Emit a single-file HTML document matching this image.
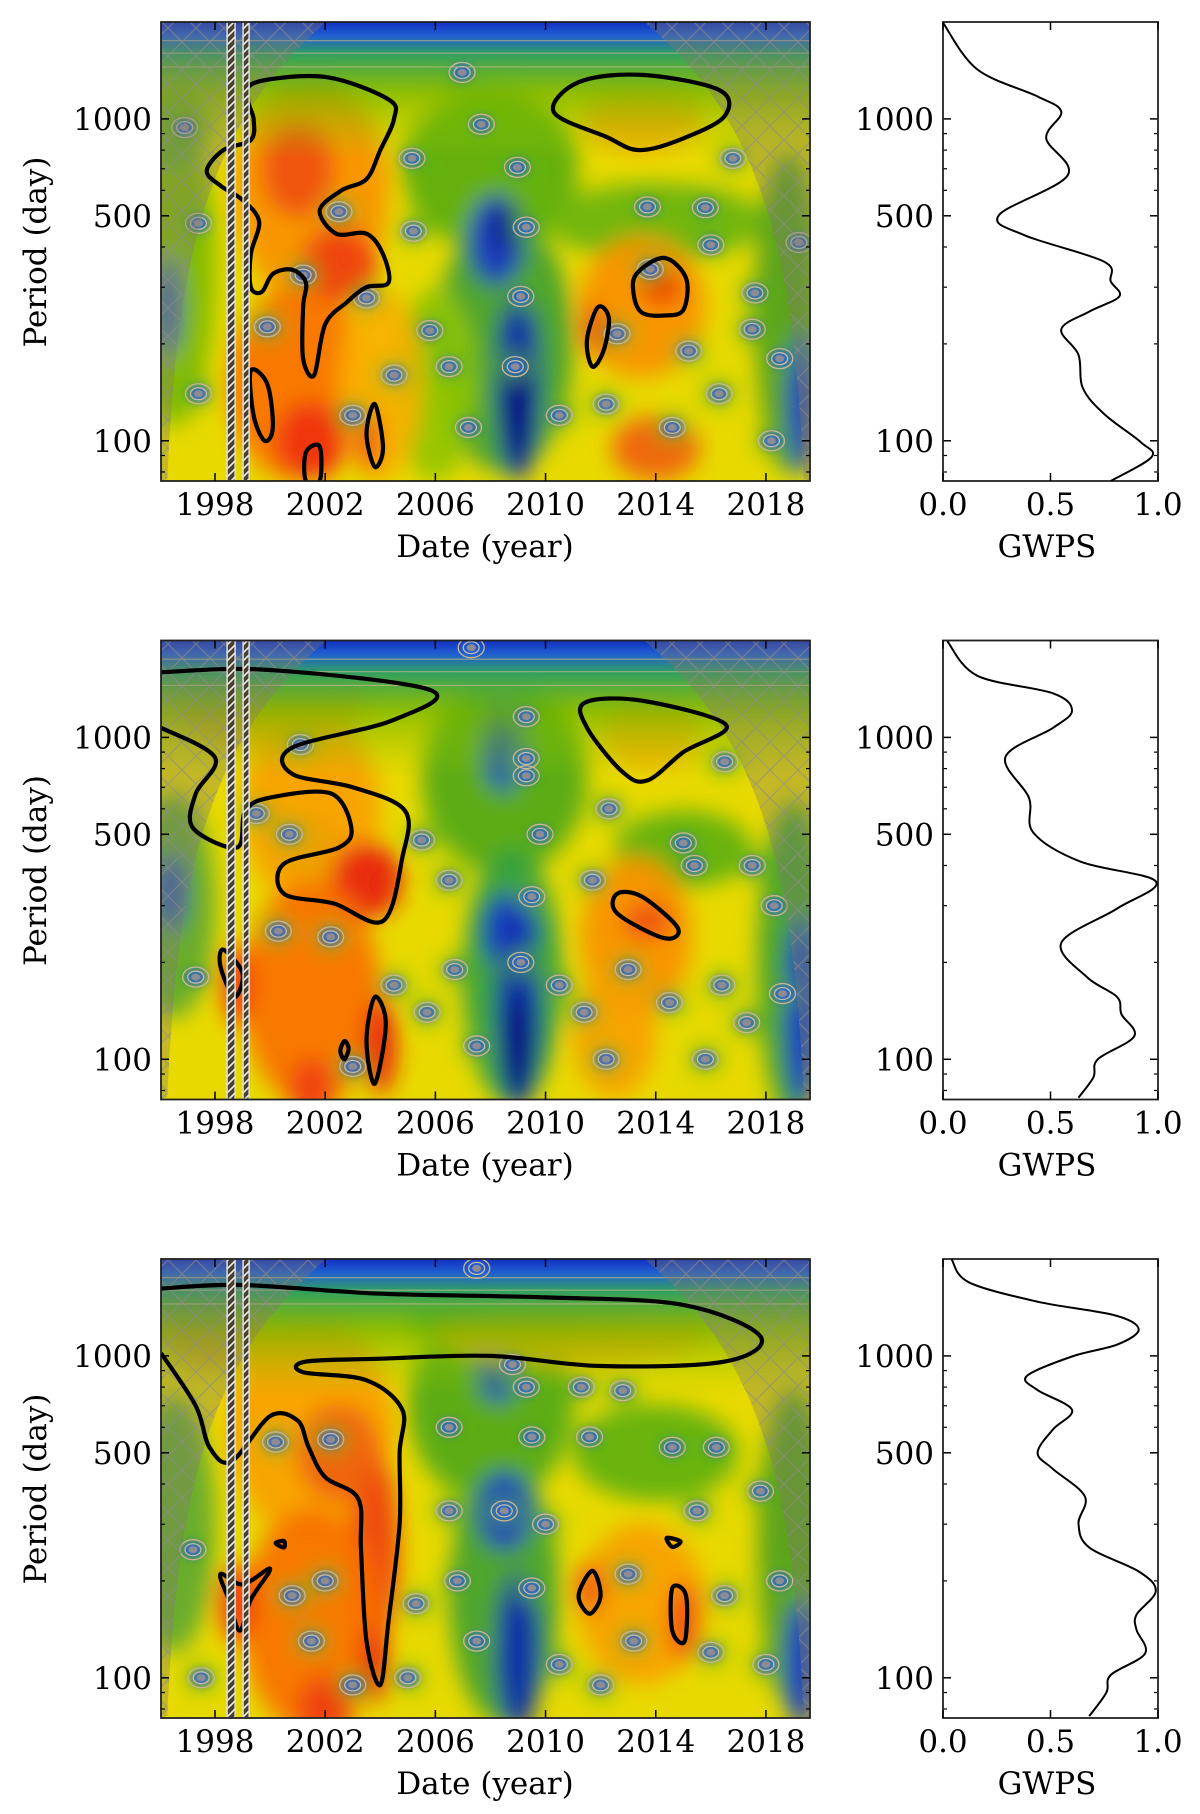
<!DOCTYPE html>
<html><head><meta charset="utf-8"><style>
html,body{margin:0;padding:0;background:#fff;}
svg{display:block;font-family:"DejaVu Serif","Liberation Serif",serif;}
</style></head><body>
<svg id="fig" width="1200" height="1814" viewBox="0 0 1200 1814" xmlns="http://www.w3.org/2000/svg">
<defs>
<filter id="blur" x="-20%" y="-20%" width="140%" height="140%"><feGaussianBlur stdDeviation="11"/></filter>
<filter id="blur2" x="-50%" y="-50%" width="200%" height="200%"><feGaussianBlur stdDeviation="4"/></filter>
<pattern id="cross" width="28" height="28" patternUnits="userSpaceOnUse">
<path d="M0 0L28 28M28 0L0 28" stroke="rgba(140,140,140,0.6)" stroke-width="1.3" fill="none"/></pattern>
<pattern id="hatch" width="8" height="8" patternUnits="userSpaceOnUse">
<rect width="8" height="8" fill="#4a4030"/><path d="M-2 10L10 -2M-2 2L2 -2M6 10L10 6" stroke="#eee" stroke-width="1.6"/></pattern>
<linearGradient id="topband" x1="0" y1="0" x2="0" y2="1">
<stop offset="0" stop-color="#1030c0"/><stop offset="0.03" stop-color="#2060d0"/><stop offset="0.07" stop-color="#30a060"/><stop offset="0.16" stop-color="#70b400" stop-opacity="0.7"/><stop offset="0.3" stop-color="#a0c800" stop-opacity="0"/></linearGradient>
</defs>
</svg>
<script>
const yearTicks=[1998,2002,2006,2010,2014,2018];
const periodTicks=[100,500,1000];
const minorPeriods=[80,90,200,300,400,600,700,800,900];
const gwpsTicks=[0,0.5,1];

const p1GwpsPeriod=[1990,1424,1174,1051,870,668,502,435,360,313,281,252,222,185,146,121,99,89,75];
const p1GwpsPower=[0.0,0.16,0.44,0.55,0.48,0.58,0.26,0.38,0.75,0.78,0.82,0.68,0.55,0.63,0.65,0.75,0.92,0.97,0.78];
const p2GwpsPeriod=[1990,1554,1372,1211,1069,868,649,506,411,357,294,230,180,156,138,118,100,88,76];
const p2GwpsPower=[0.02,0.16,0.51,0.60,0.51,0.29,0.40,0.42,0.64,0.99,0.81,0.55,0.67,0.81,0.83,0.89,0.72,0.70,0.63];
const p3GwpsPeriod=[1995,1693,1474,1336,1209,1084,996,866,783,680,590,500,446,366,301,254,214,186,157,141,119,102,90,76];
const p3GwpsPower=[0.04,0.12,0.44,0.80,0.91,0.81,0.60,0.39,0.44,0.60,0.51,0.44,0.51,0.66,0.63,0.68,0.91,0.99,0.90,0.90,0.94,0.78,0.76,0.68];

const p1Blobs=[[2008,700,3.2,0.25,'#5aac10'],[2014,480,4,0.12,'#6ab410'],[2008.5,200,2.5,0.4,'#40a030'],[2018.8,250,1.2,0.5,'#50a020'],[1996.5,350,1.5,0.5,'#7ab800'],[2006,150,1.5,0.3,'#90c400'],[1996.6,950,1.2,0.12,'#60a830'],
[2008.2,420,1.0,0.14,'#1838c8'],[2008.6,460,0.5,0.07,'#000080'],[2009,150,0.8,0.3,'#0828b0'],[2009,130,0.4,0.18,'#000070'],[2019.3,130,0.5,0.22,'#1030d0'],[1996.3,260,0.4,0.15,'#2040c0'],
[2001.5,600,2.8,0.35,'#f89000'],[2001,700,1.3,0.15,'#f05010'],[2002.5,350,1.4,0.12,'#f04010'],[2001,150,2.5,0.3,'#f87000'],[2001.5,100,1.3,0.12,'#f03010'],[2013.5,1000,2.2,0.1,'#f8a800'],[2013.5,260,2.3,0.22,'#f89000'],[2014.2,300,0.8,0.06,'#f04000'],[2014,95,1.6,0.1,'#f06010'],[2011.8,220,0.5,0.08,'#f05010'],[2004,150,1.5,0.3,'#f8b000'],[2003.6,100,0.4,0.1,'#f04010']];
const p2Blobs=[[2008.5,750,3,0.3,'#50a818'],[2015,450,2.5,0.12,'#60b010'],[2008.8,180,1.8,0.4,'#30a040'],[2019,200,1.3,0.5,'#40a030'],[1996.5,300,1.5,0.35,'#60a830'],[2001.5,450,1.2,0.1,'#70b410'],
[2008.7,250,1.0,0.12,'#1838c8'],[2009,140,0.8,0.3,'#0828b0'],[2009,110,0.4,0.15,'#000070'],[2019.3,140,0.6,0.3,'#1030d0'],[2008.5,950,0.8,0.15,'#2050c0'],[2007,1900,3,0.06,'#0020a0'],[1996.4,330,0.5,0.12,'#2040c0'],
[2000,1300,3.5,0.15,'#f8a800'],[2001.5,600,2.5,0.3,'#f8a000'],[2003.5,360,1.3,0.12,'#e82010'],[2001.5,160,2.5,0.35,'#f87000'],[2004,110,0.6,0.15,'#e82010'],[2001.5,80,0.8,0.1,'#f04010'],[2013.8,1050,1.8,0.12,'#f8b000'],[2013.3,240,2.0,0.25,'#f89000'],[2013.7,270,0.9,0.06,'#f05010'],[2012.5,120,1.5,0.2,'#f8a000'],[1998.8,170,0.6,0.12,'#f04010']];
const p3Blobs=[[2008,700,3,0.3,'#50a818'],[2014,500,3,0.15,'#60b010'],[2008.5,180,2,0.4,'#40a030'],[2019,250,1.3,0.5,'#50a020'],[1996.5,300,1.5,0.4,'#60a830'],[2009,1300,4,0.08,'#60b010'],
[2008.5,330,1.0,0.12,'#1838c8'],[2009,120,0.8,0.25,'#0828b0'],[2019.3,110,0.6,0.2,'#1030d0'],[2008.3,900,0.8,0.1,'#2050c0'],[2010,1850,4,0.05,'#2050c0'],
[2001.5,600,3,0.35,'#f8a000'],[2003.8,250,0.9,0.3,'#f04010'],[2002.5,500,1.5,0.15,'#f06010'],[2001.5,150,2.5,0.35,'#f87000'],[2003.8,110,0.5,0.12,'#e82010'],[2002,80,1,0.1,'#f04010'],[2011,1200,5,0.1,'#f8a800'],[2013.5,170,2.3,0.25,'#f8a000'],[2015,150,0.5,0.12,'#f04010'],[2011.6,190,0.5,0.08,'#f05010'],[1998.8,170,0.7,0.12,'#f04010'],[1998,1300,2,0.15,'#f8a000']];

const p1Rings=[[2006.97,1394],[2007.67,962],[2005.15,754],[2008.98,707],[2013.7,533],[2015.8,530],[2002.5,515],[2005.2,448],[2009.3,461],[2016.8,754],[2016,406],[2019.2,413],[1997.4,474],[1996.9,940],[2001.2,327],[2003.5,278],[2009.1,281],[2013.8,341],[2017.6,288],[2017.5,222],[2005.8,220],[1999.9,226],[2012.6,215],[2015.2,190],[2004.5,160],[2006.5,170],[2010.5,120],[2016.3,140],[2018.5,180],[1997.4,140],[2008.9,170],[2003,120],[2012.2,130],[2014.6,110],[2018.2,100],[2007.2,110]];
const p2Rings=[[2007.3,1900],[2001.1,950],[2009.3,1160],[2009.3,860],[2009.3,760],[2012.3,600],[2009.8,500],[1999.5,580],[2000.7,500],[2005.5,480],[2016.5,840],[2015,470],[2015.4,400],[2017.5,400],[2006.5,360],[2011.7,360],[2009.5,320],[2018.3,300],[2002.2,240],[2000.3,250],[2006.7,190],[2010.5,170],[2013,190],[2016.4,170],[2018.6,160],[1997.3,180],[2004.5,170],[2009.1,200],[2011.4,140],[2014.5,150],[2017.3,130],[2005.7,140],[2007.5,110],[2012.2,100],[2015.8,100],[2003,95]];
const p3Rings=[[2007.5,1870],[2008.8,940],[2009.3,800],[2011.3,800],[2012.8,780],[2002.2,550],[2000.2,540],[2006.5,600],[2009.5,560],[2011.6,560],[2014.6,520],[2016.2,520],[2017.8,380],[2015.5,330],[2008.5,330],[2010,300],[2006.5,330],[2002,200],[2000.8,180],[2005.3,170],[2006.8,200],[2009.5,190],[2013,210],[2016.5,180],[2018.5,200],[1997.2,250],[2001.5,130],[2007.5,130],[2010.5,110],[2013.2,130],[2016,120],[2018,110],[2005,100],[2012,95],[1997.5,100],[2003,95]];

const p1Contours=[[[1999.5,1300],[2002,1350],[2004.3,1150],[2004.5,1000],[2004,800],[2003.5,650],[2002.6,600],[2001.8,520],[2002.4,440],[2003.5,440],[2004.1,380],[2004.3,310],[2003.5,300],[2002.8,270],[2002,230],[2001.6,160],[2001.2,180],[2001.2,260],[2001.3,310],[2000.8,340],[2000.1,330],[1999.7,290],[1999.3,300],[1999.3,380],[1999.6,480],[1999,560],[1998.2,620],[1997.7,690],[1998.3,800],[1999.3,860],[1999.4,1000],[1999.2,1150]],
[[2010.3,1050],[2011.2,1300],[2013.5,1370],[2016.3,1230],[2016.5,1020],[2015,870],[2013.4,800],[2012.2,880]],
[[2013.3,330],[2014.3,370],[2015.1,320],[2015,255],[2014.3,245],[2013.5,250],[2013.2,285]],
[[2011.5,205],[2011.9,260],[2012.3,240],[2012.1,190],[2011.7,170]],
[[1999.3,165],[1999.9,150],[2000.1,110],[1999.8,100],[1999.4,120]],
[[2003.8,130],[2004.1,95],[2003.8,83],[2003.5,105]],
[[2001.3,92],[2001.8,96],[2001.8,75],[2001.3,75]]];
const p1Open=[];
const p2Contours=[[[2011.44,1284],[2013.5,1300],[2016.55,1094],[2015,900],[2013.7,735],[2012.8,780],[2011.5,1073]],
[[2012.6,327],[2013.5,320],[2014.8,256],[2014.3,238],[2012.6,284]],
[[1998.3,219],[1999.0,185],[1998.7,156],[1998.2,194]],
[[2003.8,156],[2004.2,129],[2003.8,84],[2003.5,114]],
[[2002.7,114],[2002.85,108],[2002.7,100],[2002.55,106]]];
const p2Open=[[[1996.04,1594],[2000,1620],[2005.86,1399],[2004.4,1126],[2000.8,929],[2000.8,770],[2003,700],[2004.9,591],[2004.8,423],[2004.1,269],[2002.3,305],[2000.5,327],[2000.5,405],[2002.5,455],[2002.95,524],[2002.2,670],[2000,650],[1999.1,591],[1998.8,455],[1997.2,523],[1997.3,668],[1998,866],[1996.04,1072]]];
const p3Contours=[[[2011.2,180],[2011.7,215],[2012,180],[2011.6,158]],
[[2014.6,190],[2015.1,180],[2015.05,130],[2014.6,140]],
[[2014.4,272],[2014.9,265],[2014.6,255]],
[[2000.2,262],[2000.5,266],[2000.5,254]],
[[1998.2,210],[1999,195],[2000,218],[1999.3,175],[1998.9,140],[1998.5,175]]];
const p3Open=[[[1996.04,1620],[1999,1660],[2004,1560],[2010,1520],[2015,1440],[2017.8,1150],[2016.5,960],[2012,930],[2008,1000],[2004,980],[2001.3,960],[2001.2,890],[2003.5,840],[2004.8,680],[2004.7,500],[2004.7,300],[2004.3,150],[2004,95],[2003.5,130],[2003.3,250],[2003.2,360],[2002,420],[2001.4,520],[2001,630],[2000,650],[1998.6,470],[1997.8,520],[1997.3,700],[1996.04,1020]]];

const panels=[
 {oy:22,g:[p1GwpsPeriod,p1GwpsPower],blobs:p1Blobs,rings:p1Rings,closed:p1Contours,open:p1Open},
 {oy:640.5,g:[p2GwpsPeriod,p2GwpsPower],blobs:p2Blobs,rings:p2Rings,closed:p2Contours,open:p2Open},
 {oy:1259,g:[p3GwpsPeriod,p3GwpsPower],blobs:p3Blobs,rings:p3Rings,closed:p3Contours,open:p3Open}];

const NS='http://www.w3.org/2000/svg';
const svg=document.getElementById('fig');
const HX0=161,HX1=810,HW=649,PH=459,Y0=1996.04,Y1=2019.6,PMAX=2000,PMIN=75;
const GX0=943,GX1=1158;
const LOGR=Math.log10(PMAX)-Math.log10(PMIN);
function xs(yr){return HX0+(yr-Y0)/(Y1-Y0)*HW;}
function ys(p,oy){return oy+(Math.log10(PMAX)-Math.log10(p))/LOGR*PH;}
function gs(v){return GX0+v*(GX1-GX0);}
const DEC=PH/LOGR, YRPX=HW/(Y1-Y0);
function mk(tag,attrs,parent){const e=document.createElementNS(NS,tag);for(const k in attrs)e.setAttribute(k,attrs[k]);(parent||svg).appendChild(e);return e;}
function crPath(pts,closed){
 const n=pts.length;let d='M'+pts[0][0].toFixed(1)+' '+pts[0][1].toFixed(1);
 const get=i=>closed?pts[(i+n)%n]:pts[Math.max(0,Math.min(n-1,i))];
 const segs=closed?n:n-1;
 for(let i=0;i<segs;i++){const p0=get(i-1),p1=get(i),p2=get(i+1),p3=get(i+2);
  const c1=[p1[0]+(p2[0]-p0[0])/6,p1[1]+(p2[1]-p0[1])/6],c2=[p2[0]-(p3[0]-p1[0])/6,p2[1]-(p3[1]-p1[1])/6];
  d+='C'+c1[0].toFixed(1)+' '+c1[1].toFixed(1)+' '+c2[0].toFixed(1)+' '+c2[1].toFixed(1)+' '+p2[0].toFixed(1)+' '+p2[1].toFixed(1);}
 return d+(closed?'Z':'');}
function txt(s,x,y,anchor,parent,name,rot){const t=mk('text',{x:x,y:y,'font-size':31,'text-anchor':anchor,fill:'#000'},parent);
 if(rot)t.setAttribute('transform','rotate(-90 '+x+' '+y+')');t.textContent=s;
 
 return t;}

panels.forEach((P,pi)=>{
 const oy=P.oy;
 const grp=mk('g',{});
 
 
 const cid='clip'+pi;
 const cp=mk('clipPath',{id:cid},grp);mk('rect',{x:HX0,y:oy,width:HW,height:PH},cp);
 const heat=mk('g',{'clip-path':'url(#'+cid+')'},grp);
 
 
 mk('rect',{x:HX0,y:oy,width:HW,height:PH,fill:'#e8da00'},heat);
 const bl=mk('g',{filter:'url(#blur)'},heat);
 P.blobs.forEach(b=>{const e=mk('ellipse',{cx:xs(b[0]),cy:ys(b[1],oy),rx:b[2]*YRPX,ry:b[3]*DEC,fill:b[4],opacity:0.92},bl);
  
  });
 P.rings.forEach(r=>{mk('ellipse',{cx:xs(r[0]),cy:ys(r[1],oy),rx:16,ry:13,fill:'#58b020',opacity:0.8},bl);});
 mk('rect',{x:HX0,y:oy,width:HW,height:PH,fill:'url(#topband)'},heat);
 const hl=mk('g',{filter:'url(#blur2)'},heat);
 P.rings.forEach(r=>{mk('ellipse',{cx:xs(r[0]),cy:ys(r[1],oy),rx:10,ry:8,fill:'#2a60d0'},hl);});
 P.rings.forEach(r=>{const cx=xs(r[0]),cy=ys(r[1],oy);
  const g=mk('g',{},heat);
  
  
  mk('ellipse',{cx:cx,cy:cy,rx:13,ry:10,fill:'none',stroke:'#c8b890','stroke-width':1.3},g);
  mk('ellipse',{cx:cx,cy:cy,rx:8,ry:6,fill:'none',stroke:'#c8c0a8','stroke-width':1.2},g);
  mk('ellipse',{cx:cx,cy:cy,rx:4.5,ry:3.5,fill:'#8c8c94'},g);});
 [1750,1600,1450].forEach(p=>{mk('line',{x1:HX0,x2:HX1,y1:ys(p,oy),y2:ys(p,oy),stroke:'#c8b890','stroke-width':1.2,opacity:0.7},heat);});
 const k=0.003,left=[],right=[];
 for(let p=PMAX;p>=PMIN;p*=0.9){left.push([xs(Y0+k*p),ys(p,oy)]);right.push([xs(Y1-k*p),ys(p,oy)]);}
 let dl='M'+HX0+' '+oy+' L'+left.map(q=>q[0].toFixed(1)+' '+q[1].toFixed(1)).join(' L')+' L'+HX0+' '+(oy+PH)+'Z';
 let dr='M'+HX1+' '+oy+' L'+right.map(q=>q[0].toFixed(1)+' '+q[1].toFixed(1)).join(' L')+' L'+HX1+' '+(oy+PH)+'Z';
 [dl,dr].forEach((d,i)=>{const c=mk('path',{d:d,fill:'rgba(130,120,110,0.35)'},heat);
  
  
  mk('path',{d:d,fill:'url(#cross)'},heat);});
 P.closed.forEach(c=>{const e=mk('path',{d:crPath(c.map(q=>[xs(q[0]),ys(q[1],oy)]),true),fill:'none',stroke:'#000','stroke-width':4.2},heat);
  
  });
 P.open.forEach(c=>{const e=mk('path',{d:crPath(c.map(q=>[xs(q[0]),ys(q[1],oy)]),false),fill:'none',stroke:'#000','stroke-width':4.2},heat);
  
  });
 [[1998.44,1998.73],[1999.02,1999.24]].forEach(g=>{const r=mk('rect',{x:xs(g[0]),y:oy,width:xs(g[1])-xs(g[0]),height:PH,fill:'url(#hatch)',stroke:'#ddd','stroke-width':1.5},heat);
  
  });
 const fr=mk('rect',{x:HX0,y:oy,width:HW,height:PH,fill:'none',stroke:'#222','stroke-width':1.8},grp);
 
 
 yearTicks.forEach(yr=>{const x=xs(yr);
  mk('line',{x1:x,x2:x,y1:oy+PH,y2:oy+PH-8,stroke:'#000','stroke-width':1.5},grp);
  mk('line',{x1:x,x2:x,y1:oy,y2:oy+8,stroke:'#000','stroke-width':1.5},grp);
  txt(String(yr),x,oy+493,'middle',grp,'x-tick-label');});
 periodTicks.forEach(p=>{const y=ys(p,oy);
  [[HX0,8],[HX1,-8],[GX0,8],[GX1,-8]].forEach(s=>mk('line',{x1:s[0],x2:s[0]+s[1],y1:y,y2:y,stroke:'#000','stroke-width':1.5},grp));
  txt(String(p),HX0-9,y+11,'end',grp,'y-tick-label');
  txt(String(p),GX0-9,y+11,'end',grp,'gwps-y-tick-label');});
 minorPeriods.forEach(p=>{const y=ys(p,oy);
  [[HX0,4],[HX1,-4],[GX0,4],[GX1,-4]].forEach(s=>mk('line',{x1:s[0],x2:s[0]+s[1],y1:y,y2:y,stroke:'#000','stroke-width':1.2},grp));});
 txt('Period (day)',46,oy+230,'middle',grp,'y-axis-title',true);
 txt('Date (year)',485,oy+535,'middle',grp,'x-axis-title');
 const gf=mk('rect',{x:GX0,y:oy,width:GX1-GX0,height:PH,fill:'none',stroke:'#222','stroke-width':1.8},grp);
 
 
 gwpsTicks.forEach(v=>{const x=gs(v);
  mk('line',{x1:x,x2:x,y1:oy+PH,y2:oy+PH-8,stroke:'#000','stroke-width':1.5},grp);
  mk('line',{x1:x,x2:x,y1:oy,y2:oy+8,stroke:'#000','stroke-width':1.5},grp);
  txt(v.toFixed(1),x,oy+493,'middle',grp,'gwps-x-tick-label');});
 txt('GWPS',1047,oy+535,'middle',grp,'gwps-axis-title');
 const gp=P.g[0].map((p,i)=>[gs(P.g[1][i]),ys(p,oy)]);
 const gc=mk('clipPath',{id:'gclip'+pi},grp);mk('rect',{x:GX0,y:oy,width:GX1-GX0,height:PH},gc);
 const line=mk('path',{d:crPath(gp,false),fill:'none',stroke:'#000','stroke-width':2,'clip-path':'url(#gclip'+pi+')'},grp);
 
 
});
</script>
</body></html>
